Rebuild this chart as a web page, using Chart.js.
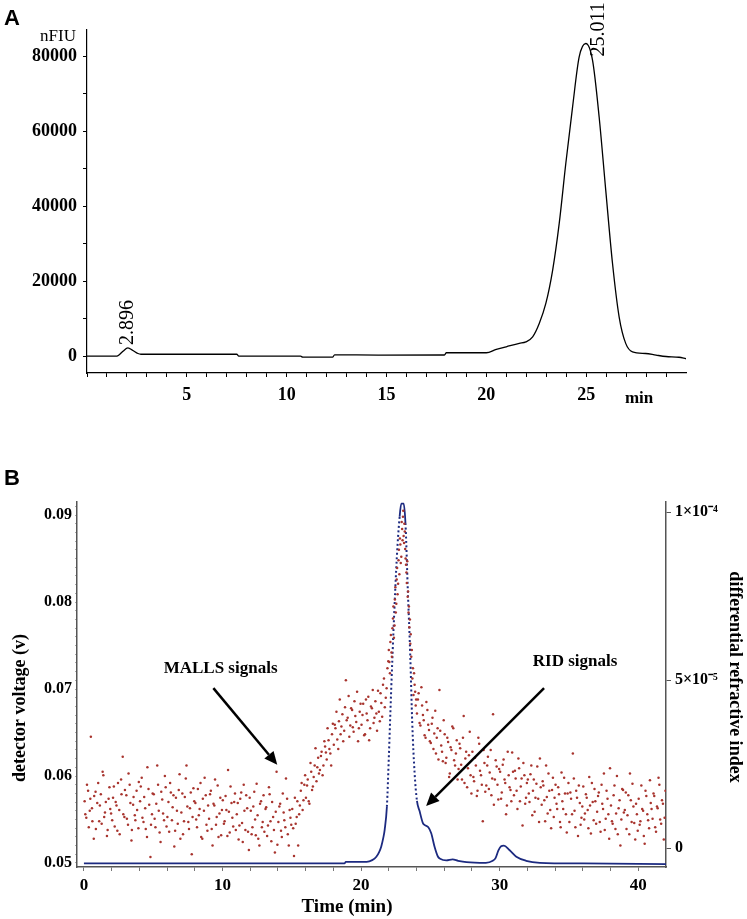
<!DOCTYPE html>
<html>
<head>
<meta charset="utf-8">
<script src="https://cdn.jsdelivr.net/npm/chart.js@4.4.1/dist/chart.umd.min.js"></script>
<style>
body { margin: 0; background: #fff; }
#wrap { position: relative; width: 747px; height: 919px; }
.panel { position: absolute; left: 0; width: 747px; }
.tag { position: absolute; left: 4px; font: bold 22px "Liberation Sans", Arial, sans-serif; color: #000; }
</style>
</head>
<body>
<div id="wrap">
  <div class="panel" style="top:0;height:420px"><canvas id="chartA"></canvas></div>
  <div class="panel" style="top:460px;height:459px"><canvas id="chartB"></canvas></div>
  <div class="tag" style="top:5px">A</div>
  <div class="tag" style="top:465px">B</div>
</div>
<script>
// ---- panel A: fluorescence chromatogram ----
const flTime = [0, 1.5, 1.6, 1.8, 2.05, 2.3, 2.55, 2.7, 7.5, 7.6, 10.7, 10.8, 12.3, 12.4, 14.6, 17.9, 18.0,
  20.0, 20.5, 21.0, 21.65, 21.98, 22.32, 22.65, 22.98, 23.32, 23.65, 23.98, 24.32, 24.65, 24.98, 25.32, 25.65,
  25.98, 26.32, 26.65, 26.98, 27.32, 27.98, 28.5, 29.0, 29.65, 30.0];
const flSignal = [0, 0, 300, 1300, 2200, 1500, 700, 500, 500, 0, 0, -270, -270, 360, 270, 300, 900,
  900, 1800, 2500, 3400, 3800, 5150, 8700, 14050, 22900, 35400, 51400, 66500, 79800, 83400, 78900, 63800,
  44300, 24700, 10500, 3400, 1150, 700, 270, -100, -300, -700];
const aTicksY = [0, 10000, 20000, 30000, 40000, 50000, 60000, 70000, 80000];
const aLabelsY = [0, 20000, 40000, 60000, 80000];
const aTicksX = [0, 1, 2, 3, 4, 5, 6, 7, 8, 9, 10, 11, 12, 13, 14, 15, 16, 17, 18, 19, 20, 21, 22, 23, 24, 25, 26, 27, 28, 29];
const aLabelsX = [5, 10, 15, 20, 25];
const peakNames = ['2.896', '25.011'];
const peakTime = [2.05, 24.98];
const peakHeight = [2200, 83400];

// ---- panel B: SEC-MALLS-RID ----
const mallsPoints = [
  [0.05,0.0571],[0.17,0.0552],[0.3,0.0583],[0.42,0.0560],[0.5,0.0645],[0.61,0.0548],[0.74,0.0577],[0.86,0.0539],
  [1.03,0.0592],[1.15,0.0566],[1.28,0.0545],[1.4,0.0601],[1.52,0.0558],[1.66,0.0531],[1.78,0.0574],[1.9,0.0562],
  [2.04,0.0549],[2.16,0.0588],[2.29,0.0570],[2.41,0.0537],[2.55,0.0561],[2.68,0.0596],[2.8,0.0622],[2.92,0.0553],
  [3.06,0.0578],[3.18,0.0544],[3.3,0.0590],[3.43,0.0526],[3.55,0.0567],[3.67,0.0555],[3.8,0.0583],[3.93,0.0540],
  [4.05,0.0571],[4.17,0.0598],[4.3,0.0547],[4.42,0.0563],[4.55,0.0530],[4.66,0.0585],[4.8,0.0507],[4.91,0.0556],
  [5.04,0.0579],[5.16,0.0541],[5.29,0.0612],[5.4,0.0560],[5.53,0.0524],[5.65,0.0573],[5.78,0.0549],[5.9,0.0587],
  [6.02,0.0553],[6.15,0.0536],[6.27,0.0581],[6.4,0.0564],[6.52,0.0519],[6.64,0.0575],[6.77,0.0545],[6.9,0.0602],
  [7.03,0.0558],[7.15,0.0533],[7.28,0.0576],[7.4,0.0612],[7.53,0.0547],[7.65,0.0563],[7.78,0.0510],[7.9,0.0586],
  [8.04,0.0569],[8.16,0.0541],[8.29,0.0555],[8.41,0.0592],[8.54,0.0528],[8.66,0.0560],[8.79,0.0578],[8.91,0.0537],
  [9.03,0.0551],[9.16,0.0583],[9.28,0.0520],[9.41,0.0566],[9.53,0.0544],[9.65,0.0589],[9.78,0.0557],[9.9,0.0532],
  [10.02,0.0572],[10.15,0.0548],[10.28,0.0561],[10.4,0.0607],[10.52,0.0535],[10.65,0.0569],[10.77,0.0542],[10.9,0.0580],
  [11.03,0.0556],[11.16,0.0527],[11.28,0.0574],[11.41,0.0546],[11.53,0.0590],[11.65,0.0538],[11.78,0.0563],[11.9,0.0515],
  [12.04,0.0560],[12.16,0.0541],[12.29,0.0582],[12.4,0.0532],[12.53,0.0555],[12.66,0.0520],[12.78,0.0571],[12.9,0.0547],
  [13.02,0.0536],[13.15,0.0564],[13.28,0.0543],[13.4,0.0579],[13.52,0.0525],[13.65,0.0553],[13.78,0.0512],[13.9,0.0605],
  [14.03,0.0547],[14.16,0.0568],[14.28,0.0530],[14.41,0.0558],[14.53,0.0541],[14.66,0.0574],[14.78,0.0520],[14.9,0.0552],
  [15.03,0.0562],[15.16,0.0508],[15.28,0.0545],[15.4,0.0571],[15.53,0.0556],[15.65,0.0583],[15.78,0.0561],[15.9,0.0590],
  [16.02,0.0575],[16.15,0.0596],[16.27,0.0568],[16.4,0.0605],[16.52,0.0588],[16.65,0.0612],[16.78,0.0594],[16.9,0.0621],
  [17.03,0.0607],[17.15,0.0628],[17.28,0.0612],[17.4,0.0634],[17.52,0.0619],[17.65,0.0641],[17.78,0.0626],[17.9,0.0648],
  [18.03,0.0636],[18.15,0.0655],[18.28,0.0642],[18.4,0.0663],[18.52,0.0648],[18.65,0.0671],[18.78,0.0652],[18.9,0.0710],
  [19.03,0.0667],[19.15,0.0645],[19.28,0.0678],[19.4,0.0656],[19.52,0.0686],[19.65,0.0662],[19.78,0.0640],[19.9,0.0674],
  [20.03,0.0659],[20.15,0.0683],[20.28,0.0648],[20.4,0.0672],[20.52,0.0691],[20.65,0.0655],[20.78,0.0678],[20.9,0.0661],
  [21.03,0.0686],[21.15,0.0652],[21.28,0.0674],[21.4,0.0695],[21.52,0.0668],[21.65,0.0712],[21.78,0.0690],[21.9,0.0724],
  [22.0,0.0745],[22.08,0.0718],[22.15,0.0762],[22.22,0.0737],[22.3,0.0781],[22.37,0.0759],[22.44,0.0803],[22.5,0.0788],
  [22.57,0.0826],[22.63,0.0809],[22.7,0.0848],[22.76,0.0832],[22.83,0.0866],[22.9,0.0852],[22.96,0.0884],
  [23.02,0.0898],[23.07,0.0876],[23.12,0.0890],[23.18,0.0861],[23.24,0.0843],[23.3,0.0822],[23.36,0.0806],[23.42,0.0788],
  [23.48,0.0771],[23.55,0.0752],[23.62,0.0737],[23.7,0.0712],[23.78,0.0693],[23.86,0.0705],[23.94,0.0681],
  [24.03,0.0672],[24.15,0.0695],[24.28,0.0658],[24.4,0.0681],[24.52,0.0664],[24.65,0.0644],[24.78,0.0676],[24.9,0.0653],
  [25.03,0.0638],[25.15,0.0667],[25.28,0.0649],[25.4,0.0626],[25.52,0.0655],[25.65,0.0699],[25.78,0.0635],[25.9,0.0617],
  [26.03,0.0648],[26.15,0.0621],[26.28,0.0639],[26.4,0.0603],[26.52,0.0630],[26.65,0.0655],[26.78,0.0612],[26.9,0.0641],
  [27.03,0.0608],[27.15,0.0632],[27.28,0.0596],[27.4,0.0669],[27.52,0.0620],[27.65,0.0587],[27.78,0.0624],[27.9,0.0601],
  [28.03,0.0628],[28.15,0.0594],[28.28,0.0612],[28.4,0.0583],[28.52,0.0637],[28.65,0.0601],[28.78,0.0548],[28.9,0.0615],
  [29.03,0.0589],[29.15,0.0622],[29.28,0.0604],[29.4,0.0578],[29.52,0.0671],[29.65,0.0596],[29.78,0.0611],[29.9,0.0573],
  [30.03,0.0605],[30.15,0.0581],[30.28,0.0619],[30.4,0.0592],[30.52,0.0566],[30.65,0.0601],[30.78,0.0584],[30.9,0.0627],
  [31.03,0.0578],[31.15,0.0597],[31.28,0.0562],[31.4,0.0609],[31.52,0.0588],[31.65,0.0543],[31.78,0.0601],[31.9,0.0575],
  [32.03,0.0596],[32.15,0.0570],[32.28,0.0612],[32.4,0.0583],[32.52,0.0559],[32.65,0.0591],[32.78,0.0574],[32.9,0.0620],
  [33.03,0.0567],[33.15,0.0589],[33.28,0.0548],[33.4,0.0576],[33.52,0.0603],[33.65,0.0561],[33.78,0.0584],[33.9,0.0553],
  [34.03,0.0590],[34.15,0.0562],[34.28,0.0579],[34.4,0.0541],[34.52,0.0571],[34.65,0.0598],[34.78,0.0556],[34.9,0.0580],
  [35.03,0.0547],[35.15,0.0574],[35.28,0.0626],[35.4,0.0560],[35.52,0.0583],[35.65,0.0531],[35.78,0.0569],[35.9,0.0552],
  [36.03,0.0588],[36.15,0.0557],[36.28,0.0575],[36.4,0.0540],[36.52,0.0566],[36.65,0.0592],[36.78,0.0549],[36.9,0.0571],
  [37.03,0.0559],[37.15,0.0581],[37.28,0.0536],[37.4,0.0568],[37.52,0.0603],[37.65,0.0551],[37.78,0.0574],[37.9,0.0528],
  [38.03,0.0566],[38.15,0.0545],[38.28,0.0589],[38.4,0.0557],[38.52,0.0533],[38.65,0.0572],[38.78,0.0550],[38.9,0.0584],
  [39.03,0.0561],[39.15,0.0539],[39.28,0.0578],[39.4,0.0603],[39.52,0.0547],[39.65,0.0565],[39.78,0.0527],[39.9,0.0556],
  [40.03,0.0574],[40.15,0.0548],[40.28,0.0562],[40.4,0.0531],[40.52,0.0583],[40.65,0.0556],[40.78,0.0540],[40.9,0.0569],
  [41.03,0.0551],[41.15,0.0577],[41.28,0.0536],[41.4,0.0563],[41.52,0.0590],[41.65,0.0545],[41.78,0.0568],[41.9,0.0552]
];
const mallsPointsMore = [
  [0.1,0.0556],[0.22,0.0590],[0.35,0.0541],[0.46,0.0574],[0.58,0.0563],[0.71,0.0528],[0.84,0.0582],[0.96,0.0569],
  [1.1,0.0548],[1.22,0.0579],[1.35,0.0605],[1.46,0.0553],[1.58,0.0570],[1.71,0.0538],[1.84,0.0587],[1.96,0.0557],
  [2.1,0.0575],[2.22,0.0542],[2.35,0.0566],[2.46,0.0592],[2.58,0.0533],[2.71,0.0579],[2.84,0.0556],[2.96,0.0584],
  [3.1,0.0551],[3.22,0.0603],[3.35,0.0569],[3.46,0.0538],[3.58,0.0576],[3.71,0.0549],[3.84,0.0561],[3.96,0.0593],
  [4.1,0.0588],[4.22,0.0552],[4.35,0.0576],[4.46,0.0539],[4.58,0.0610],[4.71,0.0567],[4.84,0.0544],[4.96,0.0580],
  [5.1,0.0551],[5.22,0.0568],[5.35,0.0590],[5.46,0.0535],[5.58,0.0582],[5.71,0.0557],[5.84,0.0600],[5.96,0.0542],
  [6.1,0.0570],[6.22,0.0592],[6.35,0.0549],[6.46,0.0578],[6.58,0.0537],[6.71,0.0560],[6.84,0.0584],[6.96,0.0528],
  [7.1,0.0580],[7.22,0.0548],[7.35,0.0597],[7.46,0.0565],[7.58,0.0539],[7.71,0.0581],[7.84,0.0553],[7.96,0.0571],
  [8.1,0.0550],[8.22,0.0585],[8.35,0.0562],[8.46,0.0530],[8.58,0.0574],[8.71,0.0598],[8.84,0.0544],[8.96,0.0566],
  [9.1,0.0579],[9.22,0.0539],[9.35,0.0568],[9.46,0.0596],[9.58,0.0553],[9.71,0.0530],[9.84,0.0575],[9.96,0.0561],
  [10.1,0.0545],[10.22,0.0577],[10.35,0.0531],[10.46,0.0559],[10.58,0.0588],[10.71,0.0552],[10.84,0.0570],[10.96,0.0538],
  [11.1,0.0569],[11.22,0.0543],[11.35,0.0581],[11.46,0.0524],[11.58,0.0560],[11.71,0.0578],[11.84,0.0536],[11.96,0.0575],
  [12.1,0.0533],[12.22,0.0565],[12.35,0.0550],[12.46,0.0591],[12.58,0.0528],[12.71,0.0568],[12.84,0.0541],[12.96,0.0578],
  [13.1,0.0562],[13.22,0.0531],[13.35,0.0587],[13.46,0.0548],[13.58,0.0570],[13.71,0.0538],[13.84,0.0559],[13.96,0.0521],
  [14.1,0.0565],[14.22,0.0537],[14.35,0.0580],[14.46,0.0549],[14.58,0.0597],[14.71,0.0533],[14.84,0.0561],[14.96,0.0544],
  [15.1,0.0540],[15.22,0.0575],[15.35,0.0553],[15.46,0.0520],[15.58,0.0566],[15.71,0.0592],[15.84,0.0572],[15.96,0.0601],
  [16.1,0.0589],[16.22,0.0571],[16.35,0.0615],[16.46,0.0584],[16.58,0.0599],[16.71,0.0632],[16.84,0.0610],[16.96,0.0603],
  [17.1,0.0623],[17.22,0.0601],[17.35,0.0640],[17.46,0.0627],[17.58,0.0655],[17.71,0.0631],[17.84,0.0612],[17.96,0.0660],
  [18.1,0.0659],[18.22,0.0674],[18.35,0.0631],[18.46,0.0688],[18.58,0.0657],[18.71,0.0640],[18.84,0.0679],[18.96,0.0664],
  [19.1,0.0692],[19.22,0.0658],[19.35,0.0676],[19.46,0.0651],[19.58,0.0669],[19.71,0.0697],[19.84,0.0655],[19.96,0.0683],
  [20.1,0.0670],[20.22,0.0647],[20.35,0.0688],[20.46,0.0664],[20.58,0.0641],[20.71,0.0680],[20.84,0.0699],[20.96,0.0667],
  [21.1,0.0672],[21.22,0.0698],[21.35,0.0663],[21.46,0.0684],[21.58,0.0705],[21.71,0.0679],[21.84,0.0701],[21.96,0.0732],
  [22.04,0.0731],[22.11,0.0754],[22.19,0.0742],[22.26,0.0770],[22.33,0.0795],[22.41,0.0773],[22.47,0.0817],[22.54,0.0798],
  [22.6,0.0839],[22.67,0.0821],[22.73,0.0860],[22.8,0.0873],[22.86,0.0845],[22.93,0.0892],[22.99,0.0871],
  [23.04,0.0905],[23.1,0.0868],[23.15,0.0881],[23.21,0.0850],[23.27,0.0834],[23.33,0.0847],[23.39,0.0812],[23.45,0.0795],
  [23.52,0.0780],[23.58,0.0763],[23.66,0.0745],[23.74,0.0724],[23.82,0.0718],[23.9,0.0697],[23.97,0.0688],
  [24.1,0.0688],[24.22,0.0661],[24.35,0.0702],[24.46,0.0670],[24.58,0.0647],[24.71,0.0685],[24.84,0.0659],[24.96,0.0640],
  [25.1,0.0660],[25.22,0.0631],[25.35,0.0675],[25.46,0.0644],[25.58,0.0619],[25.71,0.0652],[25.84,0.0628],[25.96,0.0664],
  [26.1,0.0615],[26.22,0.0644],[26.35,0.0599],[26.46,0.0633],[26.58,0.0657],[26.71,0.0618],[26.84,0.0626],[26.96,0.0596],
  [27.1,0.0637],[27.22,0.0613],[27.35,0.0644],[27.46,0.0592],[27.58,0.0628],[27.71,0.0609],[27.84,0.0651],[27.96,0.0580],
  [28.1,0.0599],[28.22,0.0621],[28.35,0.0577],[28.46,0.0644],[28.58,0.0606],[28.71,0.0590],[28.84,0.0630],[28.96,0.0582],
  [29.1,0.0612],[29.22,0.0585],[29.35,0.0630],[29.46,0.0597],[29.58,0.0567],[29.71,0.0618],[29.84,0.0590],[29.96,0.0608],
  [30.1,0.0574],[30.22,0.0613],[30.35,0.0596],[30.46,0.0556],[30.58,0.0628],[30.71,0.0587],[30.84,0.0571],[30.96,0.0605],
  [31.1,0.0606],[31.22,0.0583],[31.35,0.0620],[31.46,0.0571],[31.58,0.0597],[31.71,0.0615],[31.84,0.0568],[31.96,0.0592],
  [32.1,0.0580],[32.22,0.0602],[32.35,0.0555],[32.46,0.0596],[32.58,0.0575],[32.71,0.0611],[32.84,0.0547],[32.96,0.0587],
  [33.1,0.0594],[33.22,0.0572],[33.35,0.0612],[33.46,0.0557],[33.58,0.0583],[33.71,0.0540],[33.84,0.0598],[33.96,0.0575],
  [34.1,0.0568],[34.22,0.0587],[34.35,0.0547],[34.46,0.0604],[34.58,0.0562],[34.71,0.0580],[34.84,0.0535],[34.96,0.0592],
  [35.1,0.0581],[35.22,0.0556],[35.35,0.0597],[35.46,0.0541],[35.58,0.0575],[35.71,0.0589],[35.84,0.0544],[35.96,0.0565],
  [36.1,0.0550],[36.22,0.0579],[36.35,0.0561],[36.46,0.0599],[36.58,0.0534],[36.71,0.0570],[36.84,0.0585],[36.96,0.0545],
  [37.1,0.0577],[37.22,0.0547],[37.35,0.0590],[37.46,0.0562],[37.58,0.0538],[37.71,0.0583],[37.84,0.0556],[37.96,0.0609],
  [38.1,0.0548],[38.22,0.0578],[38.35,0.0539],[38.46,0.0600],[38.58,0.0563],[38.71,0.0520],[38.84,0.0585],[38.96,0.0558],
  [39.1,0.0581],[39.22,0.0555],[39.35,0.0533],[39.46,0.0572],[39.58,0.0591],[39.71,0.0546],[39.84,0.0568],[39.96,0.0537],
  [40.1,0.0544],[40.22,0.0589],[40.35,0.0560],[40.46,0.0522],[40.58,0.0577],[40.71,0.0549],[40.84,0.0595],[40.96,0.0562],
  [41.1,0.0580],[41.22,0.0541],[41.35,0.0565],[41.46,0.0598],[41.58,0.0550],[41.71,0.0572],[41.84,0.0527],[41.96,0.0583]
];
const ridTime = [0, 18.8, 18.9, 20.4, 20.8, 21.1, 21.3, 21.45, 21.6, 21.7, 21.86, 22.0, 22.17, 22.36, 22.58, 22.78,
  22.9, 23.07, 23.2, 23.37, 23.55, 23.69, 23.86, 24.03, 24.22, 24.46, 24.6, 24.85, 25.06, 25.3, 25.55, 25.7,
  26.15, 26.6, 27.0, 27.6, 29.0, 29.5, 29.7, 29.9, 30.1, 30.3, 30.7, 31.2, 31.9, 32.9, 36.0, 42.0];
const ridSignal = [-4.6e-6, -4.6e-6, -4.1e-6, -4.1e-6, -3.6e-6, -2.6e-6, -1.2e-6, 0.4e-6, 3e-6, 5.4e-6, 12.3e-6, 27e-6,
  47e-6, 67e-6, 86.7e-6, 98.6e-6, 102.5e-6, 102.5e-6, 96.7e-6, 76.8e-6, 56.9e-6, 37.2e-6, 22.3e-6, 14e-6, 11e-6,
  7.4e-6, 6.8e-6, 6.2e-6, 4.4e-6, 0.4e-6, -2.6e-6, -3.2e-6, -3.7e-6, -3.4e-6, -3.8e-6, -4.2e-6, -4.4e-6, -3.8e-6,
  -3.0e-6, -0.8e-6, 0.5e-6, 0.7e-6, -0.6e-6, -2.6e-6, -3.8e-6, -4.4e-6, -4.6e-6, -4.8e-6];
const bTicksX = [0, 2, 4, 6, 8, 10, 12, 14, 16, 18, 20, 22, 24, 26, 28, 30, 32, 34, 36, 38, 40];
const bTicksY = [0.050, 0.051, 0.052, 0.053, 0.054, 0.055, 0.056, 0.057, 0.058, 0.059, 0.060, 0.061, 0.062,
  0.063, 0.064, 0.065, 0.066, 0.067, 0.068, 0.069, 0.070, 0.071, 0.072, 0.073, 0.074, 0.075, 0.076, 0.077,
  0.078, 0.079, 0.080, 0.081, 0.082, 0.083, 0.084, 0.085, 0.086, 0.087, 0.088, 0.089, 0.090, 0.091];
const bLabelsY = [0.05, 0.06, 0.07, 0.08, 0.09];
const bTicksRI = [0, 5e-5, 1e-4];
const bLabelsRI = ['0', '5\u00d710\u207b\u2075', '1\u00d710\u207b\u2074'];

const SERIF = '"Liberation Serif", "Times New Roman", serif';

// panel A notes: y unit, peak retention labels, "min"
const notesA = {
  id: 'notesA',
  afterDraw(chart) {
    const { ctx, scales: { x, y } } = chart;
    ctx.save();
    ctx.fillStyle = '#000';
    ctx.font = '17px ' + SERIF;
    ctx.textAlign = 'right';
    ctx.textBaseline = 'middle';
    ctx.fillText('nFIU', 76, 37);
    ctx.font = 'bold 17px ' + SERIF;
    ctx.textAlign = 'center';
    ctx.fillText('min', x.getPixelForValue(27.65), 399);
    ctx.font = '20px ' + SERIF;
    ctx.textAlign = 'left';
    const dx = [0, 13];
    const dy = [-3, 13];
    peakNames.forEach((name, i) => {
      const px = x.getPixelForValue(peakTime[i]) + dx[i];
      const py = y.getPixelForValue(peakHeight[i]) + dy[i];
      ctx.save();
      ctx.translate(px, py);
      ctx.rotate(-Math.PI / 2);
      ctx.fillText(name, 0, 0);
      ctx.restore();
    });
    ctx.restore();
  }
};

new Chart(document.getElementById('chartA'), {
  type: 'scatter',
  data: {
    datasets: [{
      data: flTime.map((t, i) => ({ x: t, y: flSignal[i] })),
      showLine: true,
      borderColor: '#000',
      borderWidth: 1.3,
      pointRadius: 0,
      cubicInterpolationMode: 'monotone'
    }]
  },
  options: {
    responsive: true,
    maintainAspectRatio: false,
    animation: false,
    layout: { padding: { top: 30, right: 61, left: 0, bottom: 0 } },
    plugins: { legend: { display: false }, tooltip: { enabled: false } },
    scales: {
      x: {
        type: 'linear', min: 0, max: 30,
        afterFit: s => { s.height = 47; },
        afterBuildTicks: s => { s.ticks = aTicksX.map(v => ({ value: v })); },
        ticks: {
          autoSkip: false, maxRotation: 0, padding: 8, color: '#000',
          font: { family: SERIF, size: 18, weight: 'bold' },
          callback: v => aLabelsX.includes(v) ? String(v) : ''
        },
        grid: { drawOnChartArea: false, tickLength: 4, color: '#000' },
        border: { color: '#000', width: 1.2 }
      },
      y: {
        min: -4500, max: 87000,
        afterFit: s => { s.width = 87; },
        afterBuildTicks: s => { s.ticks = aTicksY.map(v => ({ value: v })); },
        ticks: {
          autoSkip: false, padding: 6, color: '#000',
          font: { family: SERIF, size: 18, weight: 'bold' },
          callback: v => aLabelsY.includes(v) ? String(v) : ''
        },
        grid: { drawOnChartArea: false, tickLength: 4, color: '#000' },
        border: { color: '#000', width: 1.2 }
      }
    }
  },
  plugins: [notesA]
});

// panel B notes: axis titles, arrows and signal labels
const arrowNotes = [
  { text: 'MALLS signals', at: [9.86, 0.0724], from: [9.34, 0.0701], to: [13.95, 0.0613] },
  { text: 'RID signals', at: [35.44, 0.0731], from: [33.2, 0.0701], to: [24.69, 0.05655] }
];

const notesB = {
  id: 'notesB',
  afterDraw(chart) {
    const { ctx, scales: { x, y } } = chart;
    ctx.save();
    ctx.fillStyle = '#000';
    ctx.strokeStyle = '#000';
    ctx.textAlign = 'center';
    ctx.textBaseline = 'middle';
    ctx.font = 'bold 19px ' + SERIF;
    ctx.fillText('Time (min)', 347, 447);
    ctx.font = 'bold 18px ' + SERIF;
    ctx.save();
    ctx.translate(20, 248);
    ctx.rotate(-Math.PI / 2);
    ctx.fillText('detector voltage (v)', 0, 0);
    ctx.restore();
    ctx.save();
    ctx.translate(735, 217);
    ctx.rotate(Math.PI / 2);
    ctx.fillText('differential refractive index', 0, 0);
    ctx.restore();
    ctx.font = 'bold 17px ' + SERIF;
    arrowNotes.forEach(n => {
      ctx.fillText(n.text, x.getPixelForValue(n.at[0]), y.getPixelForValue(n.at[1]));
      const x0 = x.getPixelForValue(n.from[0]), y0 = y.getPixelForValue(n.from[1]);
      const x1 = x.getPixelForValue(n.to[0]), y1 = y.getPixelForValue(n.to[1]);
      const ang = Math.atan2(y1 - y0, x1 - x0);
      const hl = 13, hw = 6;
      ctx.lineWidth = 2.5;
      ctx.beginPath();
      ctx.moveTo(x0, y0);
      ctx.lineTo(x1 - hl * Math.cos(ang), y1 - hl * Math.sin(ang));
      ctx.stroke();
      ctx.beginPath();
      ctx.moveTo(x1, y1);
      ctx.lineTo(x1 - hl * Math.cos(ang) + hw * Math.sin(ang), y1 - hl * Math.sin(ang) - hw * Math.cos(ang));
      ctx.lineTo(x1 - hl * Math.cos(ang) - hw * Math.sin(ang), y1 - hl * Math.sin(ang) + hw * Math.cos(ang));
      ctx.closePath();
      ctx.fill();
    });
    ctx.restore();
  }
};

new Chart(document.getElementById('chartB'), {
  type: 'scatter',
  data: {
    datasets: [{
      label: 'MALLS signals',
      data: mallsPoints.concat(mallsPointsMore).map(p => ({ x: p[0], y: p[1] })),
      yAxisID: 'y',
      pointRadius: 1.25,
      pointBorderWidth: 0,
      pointBackgroundColor: '#a8342e'
    }, {
      label: 'RID signals',
      data: ridTime.map((t, i) => ({ x: t, y: ridSignal[i] })),
      yAxisID: 'y1',
      showLine: true,
      borderColor: '#1c2a80',
      borderWidth: 1.8,
      pointRadius: 0,
      cubicInterpolationMode: 'monotone',
      segment: {
        borderDash: c => Math.abs(c.p1.y - c.p0.y) > 25 ? [2, 2.5] : undefined,
        borderWidth: c => Math.abs(c.p1.y - c.p0.y) > 25 ? 2 : undefined
      }
    }]
  },
  options: {
    responsive: true,
    maintainAspectRatio: false,
    animation: false,
    layout: { padding: { top: 42, right: 0, left: 0, bottom: 0 } },
    plugins: { legend: { display: false }, tooltip: { enabled: false } },
    scales: {
      x: {
        type: 'linear', min: -0.5, max: 42,
        afterFit: s => { s.height = 52; },
        afterBuildTicks: s => { s.ticks = bTicksX.map(v => ({ value: v })); },
        ticks: {
          autoSkip: false, maxRotation: 0, padding: 4, color: '#000',
          font: { family: SERIF, size: 17, weight: 'bold' },
          callback: v => v % 10 === 0 ? String(v) : ''
        },
        grid: { drawOnChartArea: false, tickLength: 4, color: '#777' },
        border: { color: '#555', width: 1.5 }
      },
      y: {
        position: 'left', min: 0.04954, max: 0.0915,
        afterFit: s => { s.width = 77; },
        afterBuildTicks: s => { s.ticks = bTicksY.map(v => ({ value: v })); },
        ticks: {
          autoSkip: false, padding: 3, color: '#000',
          font: { family: SERIF, size: 16, weight: 'bold' },
          callback: v => bLabelsY.some(l => Math.abs(l - v) < 1e-6) ? v.toFixed(2) : ''
        },
        grid: { drawOnChartArea: false, tickLength: 2, color: '#aaa' },
        border: { color: '#555', width: 1.5 }
      },
      y1: {
        position: 'right', min: -5.65e-6, max: 1.03e-4,
        afterFit: s => { s.width = 81; },
        afterBuildTicks: s => { s.ticks = bTicksRI.map(v => ({ value: v })); },
        ticks: {
          autoSkip: false, padding: 4, color: '#000',
          font: { family: SERIF, size: 16, weight: 'bold' },
          callback: (v, i) => bLabelsRI[i]
        },
        grid: { drawOnChartArea: false, tickLength: 5, color: '#555' },
        border: { color: '#555', width: 1.5 }
      }
    }
  },
  plugins: [notesB]
});
</script>
</body>
</html>
